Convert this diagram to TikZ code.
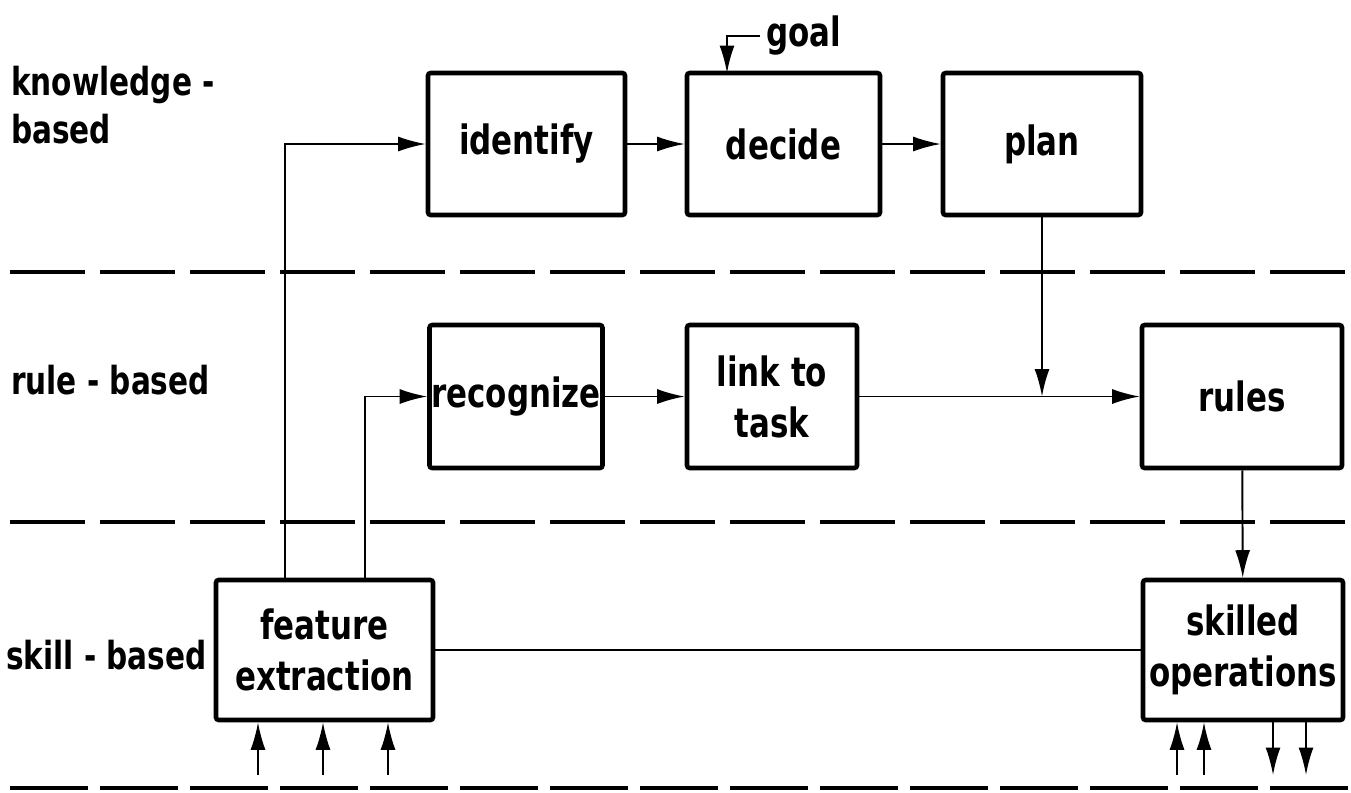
\documentclass[tikz,border=0pt]{standalone}
\usepackage{fontspec}
\setmainfont{DejaVu Sans Condensed}[FakeStretch=0.85]
\usepackage{tikz}
\usetikzlibrary{arrows.meta, positioning, calc}

\begin{document}
\begin{tikzpicture}[
    box/.style={draw, line width=2.6pt, rounded corners=1.5pt, inner sep=1pt, align=center,
        font=\fontsize{23}{29}\selectfont\bfseries},
    arr/.style={-{Latex[length=5.5mm, width=3mm]}, line width=1.1pt},
    plain/.style={line width=1.1pt},
    sep/.style={line width=2.2pt, dash pattern=on 1.5cm off 0.3cm},
    lvl/.style={anchor=west, align=left, font=\fontsize{22}{27}\selectfont\bfseries},
]
\useasboundingbox (0,0) rectangle (27.02,-15.84);

% level labels
\node[lvl] (kb) at (0.1,-2.1) {knowledge -\\based};
\node[lvl] (rb) at (0.1,-7.6) {rule - based};
\node[lvl] (sb) at (0.0,-13.1) {skill - based};

% level separators
\draw[sep] (0.2,-5.44) -- (27.02,-5.44);
\draw[sep] (0.2,-10.44) -- (27.02,-10.44);
\draw[sep, line width=2.6pt, dash pattern=on 1.55cm off 0.25cm] (0.2,-15.76) -- (27.02,-15.76);

% knowledge-based row
\node[box, minimum width=3.94cm, minimum height=2.84cm] (identify) at (10.53,-2.88) {identify};
\node[box, minimum width=3.86cm, minimum height=2.84cm] (decide) at (15.67,-2.88) {decide};
\node[box, minimum width=3.96cm, minimum height=2.84cm] (plan) at (20.84,-2.88) {plan};
\node[font=\fontsize{23}{24}\selectfont\bfseries, anchor=west] (goal) at (15.2,-0.72) {goal};

% rule-based row
\node[box, minimum width=3.36cm, minimum height=2.86cm] (recognize) at (10.32,-7.93) {recognize};
\node[box, minimum width=3.40cm, minimum height=2.86cm] (linktask) at (15.44,-7.93) {link to\\task};
\node[box, minimum width=4.00cm, minimum height=2.86cm] (rules) at (24.84,-7.93) {rules};

% skill-based row
\node[box, minimum width=4.34cm, minimum height=2.80cm] (featext) at (6.49,-13.0) {feature\\extraction};
\node[box, minimum width=4.00cm, minimum height=2.80cm] (skillop) at (24.86,-13.0) {skilled\\operations};

% connectors
\coordinate (goalin) at (14.54,-1.46);
\draw[arr] (goal.west) -| (goalin);
\draw[arr] ($(featext.north west)+(1.42,0)$) |- (identify.west);
\draw[arr] ($(featext.north west)+(3.02,0)$) |- (recognize.west);
\draw[arr] (identify) -- (decide);
\draw[arr] (decide) -- (plan);
\draw[arr] (recognize) -- (linktask);
\draw[arr] (linktask) -- (rules);
\draw[arr] (plan.south) -- (plan.south |- linktask.east);
\draw[arr] (rules) -- (skillop);
\draw[plain] (featext.east) -- (featext.east -| skillop.west);

% inputs and outputs
\foreach \x [count=\i] in {5.16,6.46,7.76} {
    \coordinate (in\i) at (\x,-15.5);
    \draw[arr] (in\i) -- (in\i |- featext.south);
}
\foreach \x [count=\i] in {23.54,24.08} {
    \coordinate (fb\i) at (\x,-15.5);
    \draw[arr] (fb\i) -- (fb\i |- skillop.south);
}
\foreach \x [count=\i] in {25.46,26.12} {
    \coordinate (out\i) at (\x,-15.5);
    \draw[arr] (out\i |- skillop.south) -- (out\i);
}
\end{tikzpicture}
\end{document}
